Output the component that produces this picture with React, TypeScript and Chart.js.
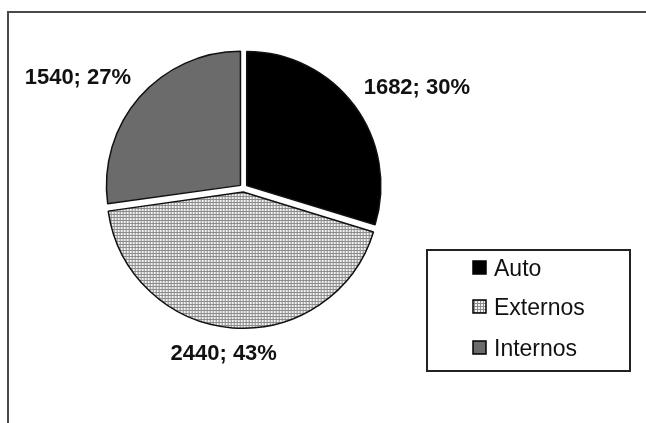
import React, { useEffect, useRef } from "react";
import { Chart, registerables } from "chart.js";

Chart.register(...registerables);

const categories: string[] = ["Auto", "Externos", "Internos"];
const values: number[] = [1682, 2440, 1540];
const sliceColors: string[] = ["#000000", "pattern", "#6b6b6b"];

const FONT = '"Liberation Sans", Arial, sans-serif';

function makePattern(ctx: CanvasRenderingContext2D): CanvasPattern | string {
  const c = document.createElement("canvas");
  c.width = 3;
  c.height = 3;
  const p = c.getContext("2d");
  if (!p) return "#c0c0c0";
  p.fillStyle = "#8c8c8c";
  p.fillRect(0, 0, 3, 3);
  p.fillStyle = "#f2f2f2";
  p.fillRect(1, 1, 2, 2);
  return ctx.createPattern(c, "repeat") || "#c0c0c0";
}

const clamp = (v: number) => Math.max(-1, Math.min(1, v));

const framePlugin = {
  id: "frame",
  beforeDraw(chart: any) {
    const { ctx, width, height } = chart;
    ctx.save();
    ctx.fillStyle = "#ffffff";
    ctx.fillRect(0, 0, width, height);
    ctx.strokeStyle = "#4a4a4a";
    ctx.lineWidth = 2;
    ctx.strokeRect(8, 12, width + 20, height + 20);
    ctx.restore();
  },
};

const labelPlugin = {
  id: "sliceLabels",
  afterDatasetsDraw(chart: any) {
    const { ctx } = chart;
    const meta = chart.getDatasetMeta(0);
    const total = values.reduce((a, b) => a + b, 0);
    ctx.save();
    ctx.font = `bold 22px ${FONT}`;
    ctx.fillStyle = "#111111";
    ctx.textAlign = "center";
    ctx.textBaseline = "middle";
    meta.data.forEach((arc: any, i: number) => {
      const p = arc.getProps(["x", "y", "startAngle", "endAngle", "outerRadius"], true);
      const half = (p.startAngle + p.endAngle) / 2;
      const off = (arc.options.offset || 0) / 2;
      const cos = Math.cos(half);
      const sin = Math.sin(half);
      const R = p.outerRadius + off + 15;
      const txt = `${values[i]}; ${Math.round((values[i] / total) * 100)}%`;
      const w = ctx.measureText(txt).width;
      const h = 16;
      const lx = p.x + cos * R + clamp(cos * 2) * (w / 2 - 6);
      const ly = p.y + sin * R + clamp(sin * 2) * h / 2;
      ctx.fillText(txt, lx, ly + 1);
    });
    ctx.restore();
  },
};

const legendPlugin = {
  id: "boxLegend",
  afterDraw(chart: any) {
    const { ctx } = chart;
    const ds = chart.data.datasets[0];
    ctx.save();
    ctx.strokeStyle = "#222222";
    ctx.lineWidth = 2;
    ctx.strokeRect(427, 250, 203, 121);
    ctx.font = `23px ${FONT}`;
    ctx.textBaseline = "alphabetic";
    ctx.textAlign = "left";
    const baselines = [276, 315, 356];
    (chart.data.labels as string[]).forEach((lab: string, i: number) => {
      const bl = baselines[i];
      const bg = (ds.backgroundColor as any[])[i];
      ctx.fillStyle = bg;
      ctx.fillRect(473, bl - 15, 13, 13);
      ctx.strokeStyle = "#000000";
      ctx.lineWidth = 1.5;
      ctx.strokeRect(473, bl - 15, 13, 13);
      ctx.fillStyle = "#111111";
      ctx.fillText(lab, 494, bl);
    });
    ctx.restore();
  },
};

export default function App() {
  const ref = useRef<HTMLCanvasElement | null>(null);
  useEffect(() => {
    const canvas = ref.current;
    if (!canvas) return;
    const ctx = canvas.getContext("2d") as CanvasRenderingContext2D;
    const pattern = makePattern(ctx);
    const colors = sliceColors.map((c) => (c === "pattern" ? pattern : c));
    const chart = new Chart(canvas, {
      type: "pie",
      data: {
        labels: categories,
        datasets: [
          {
            data: values,
            backgroundColor: colors as any,
            borderColor: "#111111",
            borderWidth: 1.5,
            offset: 16,
            hoverOffset: 16,
          },
        ],
      },
      options: {
        animation: false,
        responsive: false,
        devicePixelRatio: 1,
        radius: 134,
        events: [],
        layout: { padding: { left: 93.5, right: 252.5, top: 38, bottom: 85 } },
        plugins: {
          legend: { display: false },
          tooltip: { enabled: false },
          title: { display: false },
        },
      } as any,
      plugins: [framePlugin, labelPlugin, legendPlugin],
    });
    return () => chart.destroy();
  }, []);
  return (
    <div style={{ position: "fixed", left: 0, top: 0, width: 646, height: 423, background: "#fff" }}>
      <canvas ref={ref} width={646} height={423} style={{ display: "block", width: 646, height: 423 }} />
    </div>
  );
}
